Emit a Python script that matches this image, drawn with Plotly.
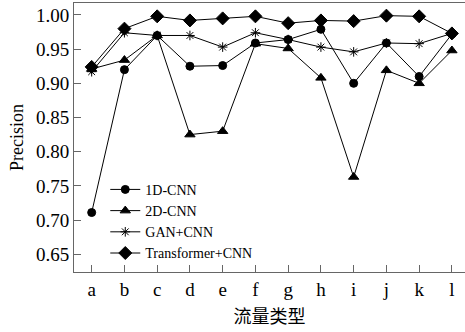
import plotly.graph_objects as go

categories = ["a", "b", "c", "d", "e", "f", "g", "h", "i", "j", "k", "l"]
cnn1d = [0.711, 0.920, 0.970, 0.925, 0.926, 0.959, 0.964, 0.979, 0.900, 0.959, 0.910, 0.972]
cnn2d = [0.921, 0.934, 0.970, 0.825, 0.830, 0.958, 0.951, 0.908, 0.763, 0.919, 0.900, 0.948]
gan_cnn = [0.917, 0.974, 0.970, 0.970, 0.953, 0.974, 0.964, 0.953, 0.946, 0.959, 0.958, 0.973]
trans_cnn = [0.924, 0.980, 0.998, 0.992, 0.995, 0.998, 0.988, 0.992, 0.991, 0.999, 0.998, 0.973]
y_ticks = [0.65, 0.70, 0.75, 0.80, 0.85, 0.90, 0.95, 1.00]

FONT = "Liberation Serif, Noto Sans CJK SC, serif"

series = [
    ("1D-CNN", cnn1d, "circle", 8),
    ("2D-CNN", cnn2d, "triangle-up", 9),
    ("GAN+CNN", gan_cnn, "asterisk-open", 8),
    ("Transformer+CNN", trans_cnn, "diamond", 10),
]

fig = go.Figure()
for name, vals, sym, sz in series:
    fig.add_trace(go.Scatter(
        x=list(range(len(categories))), y=vals, name=name, mode="lines+markers",
        line=dict(color="black", width=1),
        marker=dict(symbol=sym, size=sz, color="black",
                    line=dict(color="black", width=1)),
    ))

fig.update_layout(
    width=465, height=332,
    margin=dict(l=74, r=0, t=3, b=60),
    paper_bgcolor="white", plot_bgcolor="white",
    font=dict(family=FONT, size=19, color="black"),
    showlegend=True,
    legend=dict(x=0.08, y=0.365, xanchor="left", yanchor="top",
                bgcolor="rgba(0,0,0,0)", font=dict(size=14),
                tracegroupgap=0, itemwidth=30),
    xaxis=dict(
        range=[-0.54, 11.4], tickmode="array",
        tickvals=list(range(len(categories))), ticktext=categories,
        ticks="inside", ticklen=7, tickcolor="#666",
        showline=True, linecolor="#666", linewidth=1, mirror=True,
        showgrid=False, zeroline=False, automargin=False,
        title=dict(text="流量类型", font=dict(size=18), standoff=11),
    ),
    yaxis=dict(
        range=[0.624, 1.0175], tickmode="array", tickvals=y_ticks,
        ticktext=[f"{v:.2f}" for v in y_ticks],
        ticks="inside", ticklen=7, tickcolor="#666",
        showline=True, linecolor="#666", linewidth=1,
        showgrid=False, zeroline=False, automargin=False,
        title=dict(text="Precision", font=dict(size=18), standoff=7),
    ),
)

fig.write_html("out.html", config={"displayModeBar": False},
               post_script="document.body.style.margin='0';")
